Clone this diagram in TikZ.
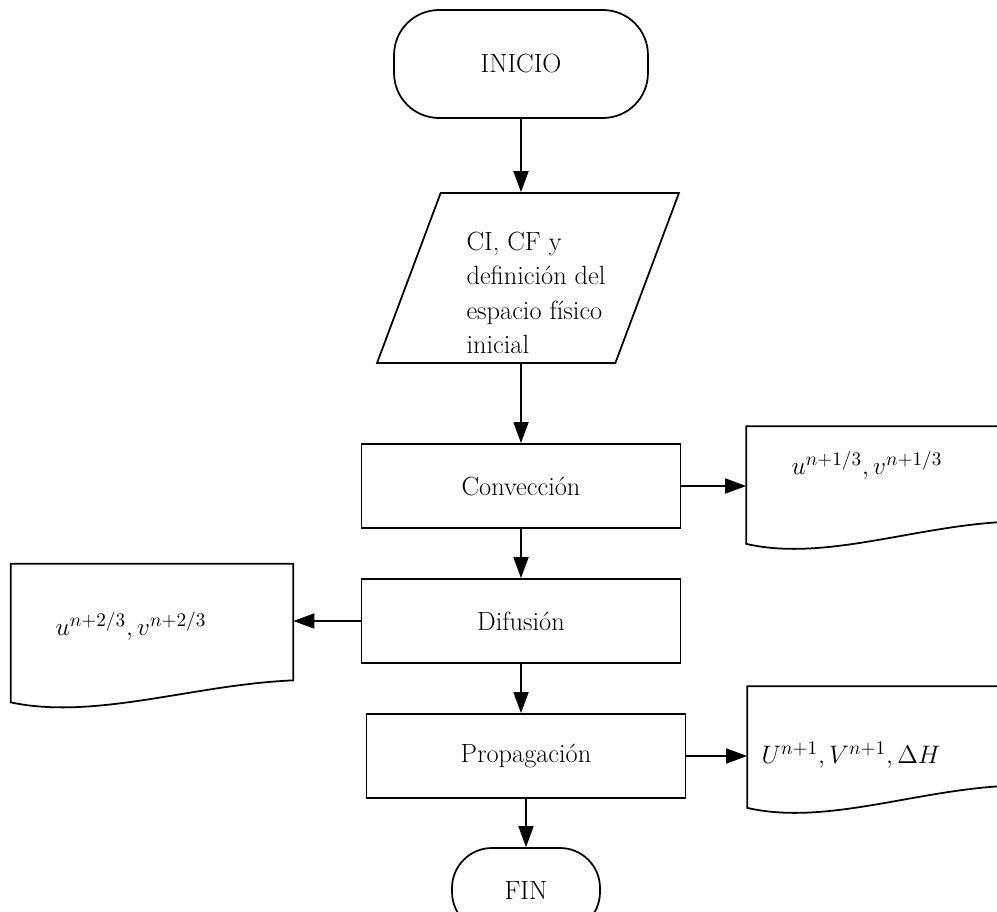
\documentclass[tikz,border=0pt]{standalone}
\usepackage{fontspec}
\usepackage{amsmath}
\usetikzlibrary{arrows.meta,shapes.geometric,calc}

\tikzset{
  terminal/.style={draw, rounded corners=0.9cm, minimum width=5.08cm, minimum height=2.16cm},
  proceso/.style={draw, minimum width=6.38cm, minimum height=1.68cm},
  entrada/.style={draw, trapezium, trapezium left angle=70, trapezium right angle=110,
    trapezium stretches=true, minimum width=6.04cm, minimum height=3.4cm},
  salida/.style={minimum width=5.16cm, minimum height=2.32cm},
}

\begin{document}
\begin{tikzpicture}[x=0.02cm, y=-0.02cm, line width=1pt,
    >={Triangle[width=0.3cm,length=0.42cm]}, font=\fontsize{15}{19.6}\selectfont]
    \useasboundingbox (0,0) rectangle (997,912);
    \node[terminal] (ini) at (521,64) {INICIO};
    \node[entrada] (datos) at (528,278) {};
    \node[align=left, inner sep=0pt] (datostxt) at (536,293) {CI, CF y\\definición del\\espacio físico\\inicial};
    \node[proceso] (conv) at (521,486) {Convección};
    \node[proceso] (dif) at (521,621) {Difusión};
    \node[proceso] (prop) at (526,756) {Propagación};
    \node[terminal, minimum width=2.96cm, minimum height=1.68cm, rounded corners=0.8cm] (fin) at (526,890) {FIN};
    \node[salida] (s1) at (876,485) {};
    \node[salida, minimum width=5.62cm, minimum height=2.74cm] (s2) at (152,633) {};
    \node[salida, minimum height=2.4cm] (s3) at (877,747) {};
    % salidas (documento)
    \foreach \s in {s1,s2,s3}
        \draw (\s.south west) .. controls ($(\s.south west)!0.3!(\s.south east)+(0,18)$)
            and ($(\s.south west)!0.65!(\s.south east)+(0,-18)$) .. ($(\s.south east)+(0,-22)$)
            -- (\s.north east) -- (\s.north west) -- cycle;
    \node (r1) at ($(s1)+(-9,-20)$) {$u^{n+1/3},v^{n+1/3}$};
    \node (r2) at ($(s2)+(-21,-7)$) {$u^{n+2/3},v^{n+2/3}$};
    \node (r3) at ($(s3)+(-26,8)$) {$U^{n+1},V^{n+1},\Delta H$};
    % flujo
    \draw[->] (ini) -- (ini |- datos.north);
    \draw[->] (conv.north |- datos.south) -- (conv.north);
    \draw[->] (conv) -- (dif);
    \draw[->] (dif) -- (dif |- prop.north);
    \draw[->] (prop) -- (fin);
    \draw[->] (conv.east) -- (conv.east -| s1.west);
    \draw[->] (dif.west) -- (dif.west -| s2.east);
    \draw[->] (prop.east) -- (prop.east -| s3.west);
\end{tikzpicture}
\end{document}
